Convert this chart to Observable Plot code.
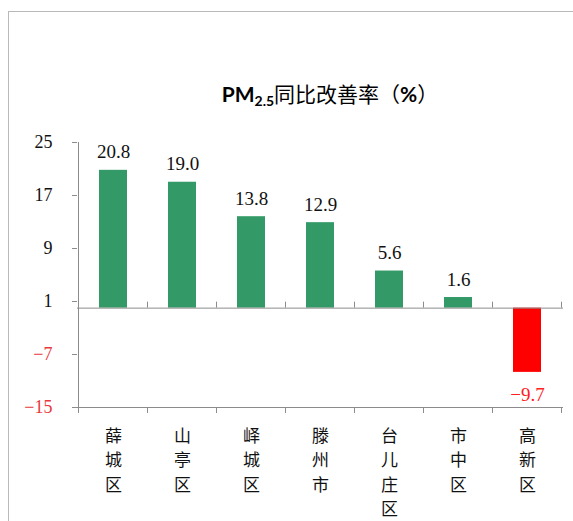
<!DOCTYPE html>
<html>
<head>
<meta charset="utf-8">
<script src="https://cdn.jsdelivr.net/npm/d3@7"></script>
<script src="https://cdn.jsdelivr.net/npm/@observablehq/plot@0.6"></script>
<style>
  html, body { margin: 0; padding: 0; background: #fff; }
  #wrap { position: relative; width: 573px; height: 521px; overflow: hidden; }
  #frame { position: absolute; left: 8px; top: 11px; width: 600px; height: 600px;
           border-left: 1.5px solid #b9b9b9; border-top: 1.5px solid #b9b9b9; }
  #title { position: absolute; left: 330px; top: 93px; transform: translate(-50%, -50%);
           white-space: nowrap; font-size: 21px; color: #000; font-family: "Noto Sans CJK SC", sans-serif; }
  #title .lat { font-family: Lato, "Noto Sans", sans-serif; font-weight: bold; font-size: 21px; }
  #title sub { font-size: 14px; vertical-align: -4px; line-height: 0; }
  #chart { position: absolute; left: 0; top: 0; }
  #chart svg text { font-family: "Liberation Serif", "Times New Roman", "DejaVu Serif", serif; }
  #chart svg text.cjk { font-family: "Noto Sans CJK SC", sans-serif; }
</style>
</head>
<body>
<div id="wrap">
  <div id="frame"></div>
  <div id="chart"></div>
  <div id="title"><span class="lat">PM<sub>2.5</sub></span>同比改善率（<span class="lat">%</span>）</div>
</div>
<script>
const categories = ["薛城区", "山亭区", "峄城区", "滕州市", "台儿庄区", "市中区", "高新区"];
const values = [20.8, 19.0, 13.8, 12.9, 5.6, 1.6, -9.7];
const yTicks = [-15, -7, 1, 9, 17, 25];

const data = categories.map((c, i) => ({name: c, value: values[i]}));
const axisGray = "#8c8c8c";
const fmt = v => v < 0 ? "\u2212" + Math.abs(v) : String(v);

const chart = Plot.plot({
  width: 573,
  height: 521,
  marginLeft: 77,
  marginRight: 10,
  marginTop: 142,
  marginBottom: 114,
  style: {background: "transparent", overflow: "visible"},
  x: {domain: categories, paddingInner: 0.6, paddingOuter: 0.3, axis: null},
  y: {domain: [-15, 25], axis: null},
  marks: [
    Plot.barY(data, {x: "name", y: "value", fill: d => d.value < 0 ? "#ff0000" : "#339966"}),
    Plot.ruleY([0, -15], {stroke: axisGray, strokeWidth: 1}),
    Plot.axisY({ticks: yTicks, tickSize: 5, stroke: axisGray, text: null, label: null}),
    Plot.text(yTicks, {
      y: d => d, frameAnchor: "left", dx: -25, textAnchor: "end",
      text: fmt, fontSize: 18, fill: d => d < 0 ? "#e8383d" : "#111"
    }),
    Plot.text(data.filter(d => d.value >= 0), {
      x: "name", y: "value", text: d => d.value.toFixed(1),
      dy: -18, fontSize: 19, fill: "#111", letterSpacing: 1.5
    }),
    Plot.text(data.filter(d => d.value < 0), {
      x: "name", y: "value", text: d => "\u2212" + Math.abs(d.value).toFixed(1),
      dy: 23, fontSize: 19, fill: "#ff2020", letterSpacing: 1.5
    }),
    Plot.text(categories, {
      x: d => d, frameAnchor: "bottom", text: d => d.split("").join("\n"),
      lineAnchor: "top", dy: 17, lineHeight: 1.44, fontSize: 17, fill: "#111"
    })
  ]
});

// category boundary ticks and the vertical axis line, from the library's scales
const xs = chart.scale("x");
const ys = chart.scale("y");
const step = xs.step;
const gapHalf = (step - xs.bandwidth) / 2;
const bounds = categories.map(c => xs.apply(c) - gapHalf);
bounds.push(xs.apply(categories[categories.length - 1]) + xs.bandwidth + gapHalf);
const svg = d3.select(chart);
svg.selectAll("text").filter(function () { return /[\u4e00-\u9fff]/.test(this.textContent); }).classed("cjk", true);
const g = svg.append("g").attr("stroke", axisGray).attr("stroke-width", 1);
const y0 = ys.apply(0), yb = ys.apply(-15), yt = ys.apply(25);
bounds.forEach(b => {
  g.append("line").attr("x1", b).attr("x2", b).attr("y1", y0 - 6).attr("y2", y0);
  g.append("line").attr("x1", b).attr("x2", b).attr("y1", yb).attr("y2", yb + 6);
});
g.append("line").attr("x1", bounds[0]).attr("x2", bounds[0]).attr("y1", yt).attr("y2", yb + 6);

document.getElementById("chart").appendChild(chart);
</script>
</body>
</html>
